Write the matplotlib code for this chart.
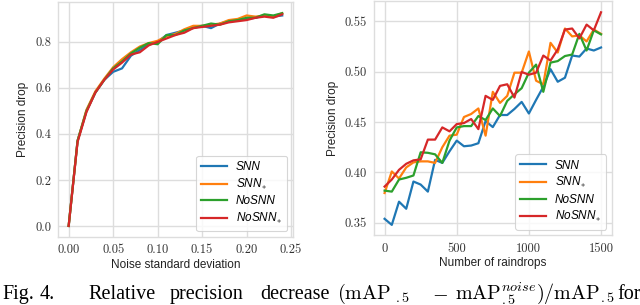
import numpy as np
import matplotlib
matplotlib.use("Agg")
import matplotlib.pyplot as plt
from matplotlib.ticker import FuncFormatter, FixedLocator

# ---------------- data ----------------
noise_std = [0.00, 0.01, 0.02, 0.03, 0.04, 0.05, 0.06, 0.07, 0.08, 0.09, 0.10, 0.11, 0.12,
             0.13, 0.14, 0.15, 0.16, 0.17, 0.18, 0.19, 0.20, 0.21, 0.22, 0.23, 0.24]
noise_snn = [0.0, 0.37, 0.50, 0.58, 0.635, 0.67, 0.685, 0.74, 0.765, 0.79, 0.80, 0.83, 0.84,
             0.85, 0.865, 0.87, 0.86, 0.88, 0.89, 0.895, 0.90, 0.905, 0.915, 0.91, 0.915]
noise_snn_s = [0.0, 0.37, 0.505, 0.585, 0.64, 0.69, 0.725, 0.755, 0.78, 0.795, 0.805, 0.825, 0.835,
               0.855, 0.87, 0.87, 0.875, 0.88, 0.895, 0.9, 0.915, 0.91, 0.915, 0.91, 0.925]
noise_nosnn = [0.0, 0.37, 0.50, 0.58, 0.635, 0.685, 0.715, 0.75, 0.775, 0.795, 0.79, 0.83, 0.83,
               0.85, 0.86, 0.87, 0.88, 0.875, 0.89, 0.895, 0.905, 0.905, 0.92, 0.915, 0.925]
noise_nosnn_s = [0.0, 0.365, 0.495, 0.58, 0.635, 0.68, 0.71, 0.745, 0.755, 0.785, 0.80, 0.815, 0.83,
                 0.84, 0.86, 0.865, 0.87, 0.875, 0.885, 0.89, 0.895, 0.905, 0.91, 0.905, 0.92]

raindrops = list(range(0, 1501, 50))
rain_snn = [0.354, 0.348, 0.371, 0.364, 0.391, 0.388, 0.381, 0.4125, 0.4095, 0.421, 0.4316,
            0.426, 0.4267, 0.429, 0.451, 0.445, 0.457, 0.457, 0.463, 0.470, 0.4585, 0.472,
            0.485, 0.5025, 0.490, 0.494, 0.516, 0.515, 0.523, 0.521, 0.524]
rain_snn_s = [0.3796, 0.401, 0.394, 0.405, 0.41, 0.411, 0.411, 0.4095, 0.425, 0.4365, 0.4375,
              0.455, 0.458, 0.4635, 0.4365, 0.480, 0.469, 0.476, 0.499, 0.499, 0.520, 0.491,
              0.4875, 0.5286, 0.519, 0.5428, 0.535, 0.536, 0.530, 0.5418, 0.5375]
rain_nosnn = [0.382, 0.381, 0.393, 0.3947, 0.397, 0.420, 0.4195, 0.418, 0.4095, 0.4316, 0.4447,
              0.446, 0.446, 0.456, 0.452, 0.4635, 0.456, 0.471, 0.4776, 0.4836, 0.499, 0.507,
              0.480, 0.509, 0.5105, 0.5155, 0.517, 0.5375, 0.521, 0.541, 0.537]
rain_nosnn_s = [0.386, 0.393, 0.4026, 0.4086, 0.412, 0.413, 0.4326, 0.4326, 0.4447, 0.4408, 0.448,
                0.449, 0.453, 0.443, 0.476, 0.472, 0.4859, 0.4875, 0.4743, 0.4997, 0.497, 0.499,
                0.516, 0.511, 0.522, 0.5418, 0.5428, 0.533, 0.5467, 0.541, 0.5589]

series_labels = ["SNN", r"SNN$_{*}$", "NoSNN", r"NoSNN$_{*}$"]
colors = ["#1f77b4", "#ff7f0e", "#2ca02c", "#d62728"]

noise_xticks = [0.00, 0.05, 0.10, 0.15, 0.20, 0.25]
noise_yticks = [0.0, 0.2, 0.4, 0.6, 0.8]
rain_xticks = [0, 500, 1000, 1500]
rain_yticks = [0.35, 0.40, 0.45, 0.50, 0.55]

caption_words = ["Fig.", "4.", "Relative", "precision", "decrease",
                 r"$(\mathrm{mAP}_{\ .5}$", r"$-$",
                 r"$\mathrm{mAP}^{noise}_{.5})/\mathrm{mAP}_{.5}$", "for"]
caption_px = [2, 40, 88, 170, 260, 337, 432, 455, 617]

# ---------------- style ----------------
plt.rcParams["font.family"] = ["Liberation Sans", "DejaVu Sans"]
plt.rcParams["mathtext.fontset"] = "cm"
FS = 8.5
GRID = "#dddddd"

fig = plt.figure(figsize=(6.4, 3.05), dpi=100)
ax1 = fig.add_axes([0.0906, 0.223, 0.367, 0.770])
ax2 = fig.add_axes([0.584, 0.228, 0.372, 0.770])


def style(ax, xt, yt, xfmt, yfmt):
    ax.set_facecolor("white")
    ax.grid(True, color=GRID, linewidth=1.0)
    ax.set_axisbelow(True)
    for s in ax.spines.values():
        s.set_color(GRID)
        s.set_linewidth(1.0)
    ax.xaxis.set_major_locator(FixedLocator(xt))
    ax.yaxis.set_major_locator(FixedLocator(yt))
    ax.xaxis.set_major_formatter(FuncFormatter(lambda v, p: xfmt.format(v)))
    ax.yaxis.set_major_formatter(FuncFormatter(lambda v, p: yfmt.format(v)))
    ax.tick_params(length=0, labelsize=FS + 0.5, pad=5, colors="#333333",
                   labelfontfamily="cmr10")


ys1 = [noise_snn, noise_snn_s, noise_nosnn, noise_nosnn_s]
for y, c, lab in zip(ys1, colors, series_labels):
    ax1.plot(noise_std, y, color=c, lw=1.6, label=lab)
style(ax1, noise_xticks, noise_yticks, "{:.2f}", "{:.1f}")
ax1.set_xlim(-0.012, 0.252)
ax1.set_ylim(-0.048, 0.973)
ax1.set_xlabel("Noise standard deviation", fontsize=FS, labelpad=2, color="#222222")
ax1.set_ylabel("Precision drop", fontsize=FS, labelpad=4, color="#222222")

ys2 = [rain_snn, rain_snn_s, rain_nosnn, rain_nosnn_s]
for y, c, lab in zip(ys2, colors, series_labels):
    ax2.plot(raindrops, y, color=c, lw=1.6, label=lab)
style(ax2, rain_xticks, rain_yticks, "{:.0f}", "{:.2f}")
ax2.set_xlim(-75, 1575)
ax2.set_ylim(0.3375, 0.5705)
ax2.set_xlabel("Number of raindrops", fontsize=FS, labelpad=2, color="#222222")
ax2.set_ylabel("Precision drop", fontsize=FS, labelpad=4, color="#222222")

for ax in (ax1, ax2):
    leg = ax.legend(loc="lower right", prop={"size": FS, "style": "italic"},
                    frameon=True, fancybox=True, handlelength=2.2, borderpad=0.45,
                    labelspacing=0.3, handletextpad=0.7, borderaxespad=0.5)
    leg.get_frame().set_edgecolor("#cccccc")
    leg.get_frame().set_linewidth(0.8)

# caption line below the panels
W, H = 640.0, 305.0
for word, px in zip(caption_words, caption_px):
    fig.text(px / W, 6.0 / H, word, fontsize=14.5, family="Liberation Serif",
             va="baseline", ha="left", math_fontfamily="cm")

fig.savefig("out.png", dpi=100)
